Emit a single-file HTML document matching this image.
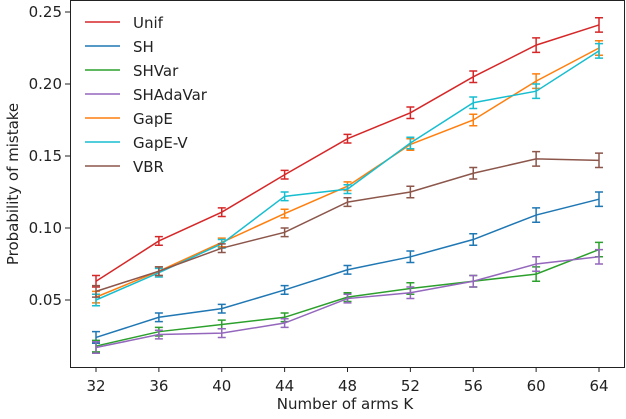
<!DOCTYPE html>
<html><head><meta charset="utf-8"><style>
body{margin:0;background:#fff}
svg text{font-family:"DejaVu Sans","Liberation Sans",sans-serif;fill:#222}
</style></head><body>
<svg id="chart" width="626" height="414">
<rect x="70.5" y="0.5" width="554" height="367" fill="none" stroke="#222" stroke-width="1"/>
<g id="axes"></g><g id="series"></g><g id="legend"></g>
<text x="345" y="409" text-anchor="middle" font-size="15">Number of arms K</text>
<text transform="translate(18,184) rotate(-90)" text-anchor="middle" font-size="15">Probability of mistake</text>
</svg>
<script>
const categories=[32,36,40,44,48,52,56,60,64];
const yTicks=[0.05,0.10,0.15,0.20,0.25];
const yTickLabels=["0.05","0.10","0.15","0.20","0.25"];
const names=["Unif","SH","SHVar","SHAdaVar","GapE","GapE-V","VBR"];
const colors=["#d62728","#1f77b4","#2ca02c","#9467bd","#ff7f0e","#17becf","#8c564b"];
const unif=[0.063,0.091,0.111,0.137,0.162,0.180,0.205,0.227,0.241];
const sh=[0.024,0.038,0.044,0.057,0.071,0.080,0.092,0.109,0.120];
const shvar=[0.018,0.028,0.033,0.038,0.052,0.058,0.063,0.068,0.085];
const shadavar=[0.017,0.026,0.027,0.034,0.051,0.055,0.063,0.075,0.080];
const gape=[0.052,0.070,0.090,0.110,0.129,0.158,0.175,0.202,0.225];
const gapev=[0.050,0.069,0.089,0.122,0.127,0.159,0.187,0.195,0.223];
const vbr=[0.056,0.070,0.086,0.097,0.118,0.125,0.138,0.148,0.147];
const errs=[0.004,0.003,0.003,0.003,0.003,0.004,0.004,0.005,0.005];
const allSeries=[unif,sh,shvar,shadavar,gape,gapev,vbr];
const NS="http://www.w3.org/2000/svg";
function x(k){return 96+(k-32)*(599-96)/32;}
function y(v){return 300-(v-0.05)*1440;}
function mk(t,a,p){const e=document.createElementNS(NS,t);for(const k in a)e.setAttribute(k,a[k]);p.appendChild(e);return e;}
const axes=document.getElementById('axes');
categories.forEach(c=>{
 const t=mk('line',{x1:x(c),x2:x(c),y1:367,y2:372,stroke:'#222'},axes);
 
 
 const l=mk('text',{x:x(c),y:391,'text-anchor':'middle','font-size':15},axes);
 l.textContent=c;
 
 
});
yTicks.forEach((v,i)=>{
 const t=mk('line',{x1:65,x2:70,y1:y(v),y2:y(v),stroke:'#222'},axes);
 
 
 const l=mk('text',{x:62,y:y(v)+5,'text-anchor':'end','font-size':15},axes);
 l.textContent=yTickLabels[i];
 
 
});
const sg=document.getElementById('series');
allSeries.forEach((s,si)=>{
 const g=mk('g',{},sg);
 
 
 const pl=mk('polyline',{points:s.map((v,i)=>x(categories[i])+','+y(v)).join(' '),fill:'none',stroke:colors[si],'stroke-width':1.5},g);
 
 
 s.forEach((v,i)=>{
  const cx=x(categories[i]),e=errs[i],y1=y(v+e),y2=y(v-e);
  const eb=mk('path',{d:`M${cx},${y1}V${y2}M${cx-4},${y1}H${cx+4}M${cx-4},${y2}H${cx+4}`,stroke:colors[si],'stroke-width':1.5,fill:'none'},g);
  
  
 });
});
const lg=document.getElementById('legend');
names.forEach((n,i)=>{
 const yy=22+i*24;
 const g=mk('g',{},lg);
 
 
 mk('line',{x1:85,x2:120,y1:yy,y2:yy,stroke:colors[i],'stroke-width':1.5},g);
 const t=mk('text',{x:133,y:yy+6,'font-size':15},g);
 t.textContent=n;
});
</script>
</body></html>
